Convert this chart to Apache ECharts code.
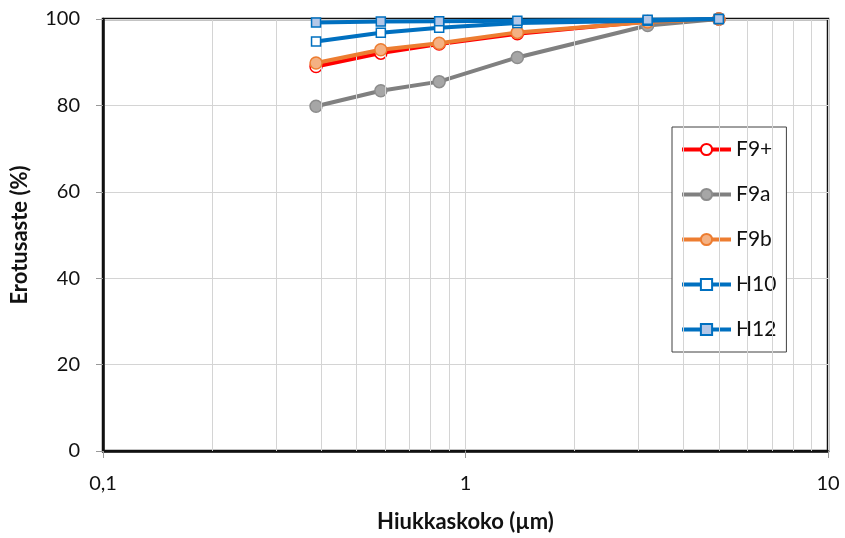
<!DOCTYPE html>
<html><head><meta charset="utf-8">
<script src="https://cdn.jsdelivr.net/npm/echarts@6/dist/echarts.min.js"></script>
<style>html,body{margin:0;padding:0;background:#fff}#c{width:845px;height:538px}</style>
</head><body><div id="c"></div>
<script>
const sizes = [0.387, 0.584, 0.846, 1.39, 3.18, 5.0];
const seriesNames = ['F9+', 'F9a', 'F9b', 'H10', 'H12'];
const valsF9plus = [89.0, 92.1, 94.2, 96.6, 99.4, 100];
const valsF9a = [79.8, 83.4, 85.5, 91.1, 98.5, 100];
const valsF9b = [89.8, 92.9, 94.4, 96.9, 99.3, 100];
const valsH10 = [94.8, 96.8, 98.0, 99.1, 99.6, 100];
const valsH12 = [99.2, 99.4, 99.5, 99.6, 99.8, 100];
const minorGridX = [0.2,0.3,0.4,0.5,0.6,0.7,0.8,0.9,2,3,4,5,6,7,8,9];
const xTickLabels = {0.1:'0,1', 1:'1', 10:'10'};

const FONT = 'Lato, "Open Sans", sans-serif';
const styles = [
  {line:'#ff0000', fill:'#ffffff', border:'#ff0000', symbol:'circle', size:12},
  {line:'#808080', fill:'#a6a6a6', border:'#8c8c8c', symbol:'circle', size:12},
  {line:'#ed7d31', fill:'#f4b183', border:'#ed7d31', symbol:'circle', size:12},
  {line:'#0070c0', fill:'#ffffff', border:'#0070c0', symbol:'rect', size:9},
  {line:'#0070c0', fill:'#b4c7e7', border:'#0070c0', symbol:'rect', size:9}
];
const allVals = [valsF9plus, valsF9a, valsF9b, valsH10, valsH12];

const series = allVals.map((v, i) => ({
  name: seriesNames[i], type: 'line',
  data: v.map((y, j) => [sizes[j], y]),
  symbol: styles[i].symbol, symbolSize: styles[i].size,
  lineStyle: {color: styles[i].line, width: 4},
  itemStyle: {color: styles[i].fill, borderColor: styles[i].border, borderWidth: 1.5},
  z: 3 + i
}));
series.unshift({
  name: 'grid', type: 'line', data: [], silent: true,
  markLine: {silent: true, symbol: 'none', label: {show: false},
    lineStyle: {color: '#d4d4d4', width: 1, type: 'solid'},
    data: minorGridX.map(x => ({xAxis: x}))},
  z: 1
});

const chart = echarts.init(document.getElementById('c'), null, {renderer: 'canvas'});
chart.setOption({
  animation: false,
  backgroundColor: '#fff',
  grid: {left: 103, right: 17, top: 19, bottom: 86, show: true, borderColor: '#111', borderWidth: 2.5, backgroundColor: 'transparent'},
  xAxis: {
    type: 'log', logBase: 10, min: 0.1, max: 10,
    name: 'Hiukkaskoko (µm)', nameLocation: 'middle', nameGap: 60,
    nameTextStyle: {fontFamily: FONT, fontSize: 22, fontWeight: 'bold', color: '#111'},
    axisLine: {show: true, lineStyle: {color: '#111', width: 2.5}},
    axisTick: {show: true, length: 7, lineStyle: {color: '#999'}},
    axisLabel: {margin: 23, fontFamily: FONT, fontSize: 20, color: '#111',
      formatter: v => xTickLabels[v] !== undefined ? xTickLabels[v] : ''},
    splitLine: {show: true, lineStyle: {color: '#d4d4d4', width: 1}}
  },
  yAxis: {
    type: 'value', min: 0, max: 100, interval: 20,
    name: 'Erotusaste (%)', nameLocation: 'middle', nameGap: 72, nameRotate: 90,
    nameTextStyle: {fontFamily: FONT, fontSize: 22, fontWeight: 'bold', color: '#111'},
    axisLine: {show: true, lineStyle: {color: '#111', width: 2.5}},
    axisTick: {show: true, length: 7, lineStyle: {color: '#999'}},
    axisLabel: {margin: 23, fontFamily: FONT, fontSize: 20, color: '#111'},
    splitLine: {show: true, lineStyle: {color: '#d4d4d4', width: 1}}
  },
  legend: {
    show: true, orient: 'vertical', left: 672, top: 127,
    data: seriesNames,
    backgroundColor: '#fff', borderColor: '#404040', borderWidth: 1,
    padding: [12, 10, 12, 8],
    itemWidth: 49, itemHeight: 14, itemGap: 24,
    lineStyle: {width: 4},
    textStyle: {fontFamily: FONT, fontSize: 21, color: '#111'}
  },
  series: series
});
</script></body></html>
